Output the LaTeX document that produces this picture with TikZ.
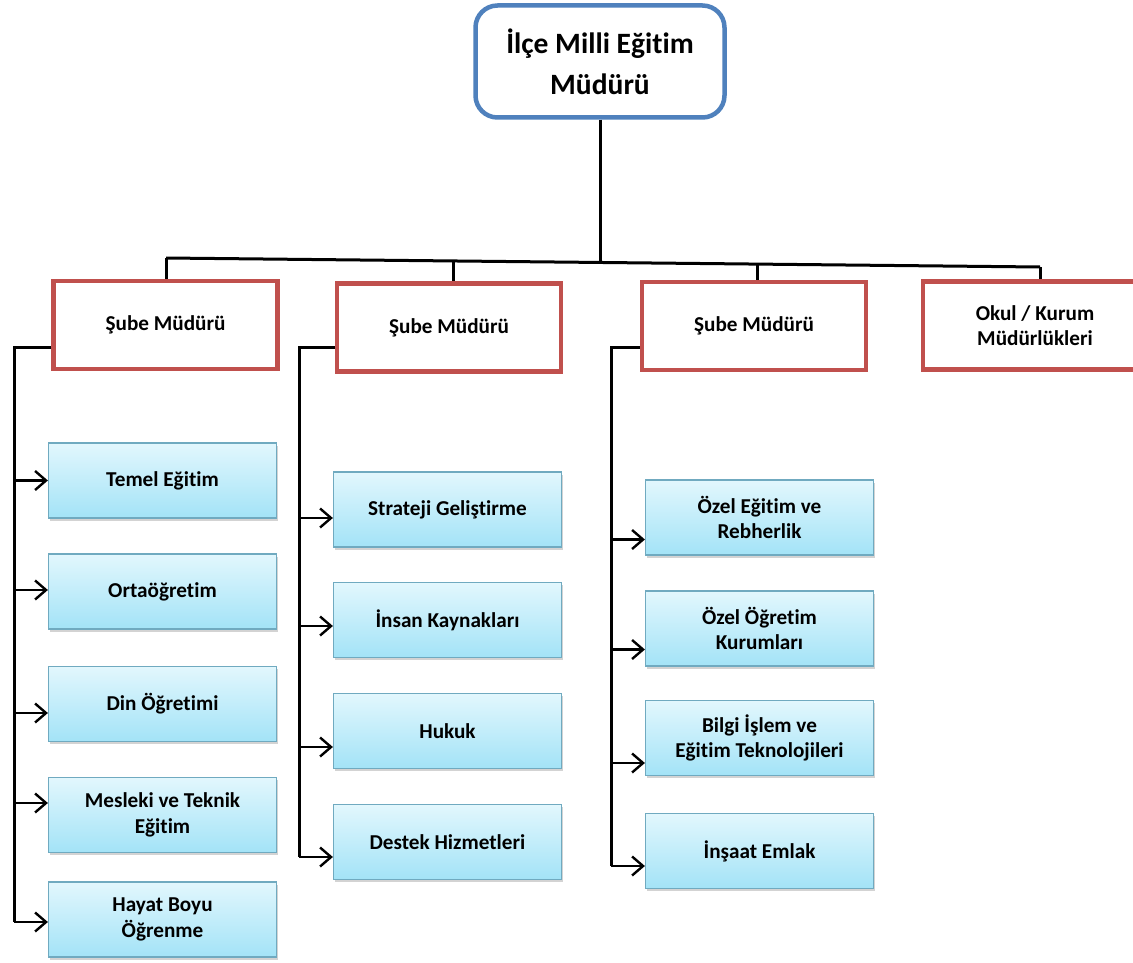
\documentclass[tikz,border=0pt]{standalone}
\usepackage{fontspec}
\setmainfont{Carlito}[Ligatures=NoCommon]
\usetikzlibrary{arrows.meta,shadows,calc}
\definecolor{topblue}{RGB}{79,129,189}
\definecolor{redc}{RGB}{192,80,77}
\definecolor{lbtop}{RGB}{226,247,253}
\definecolor{lbbot}{RGB}{163,227,247}
\definecolor{lbline}{RGB}{112,170,192}
\begin{document}
\begin{tikzpicture}[x=1pt,y=-1pt,
  topbox/.style={draw=topblue, line width=4.5pt, rounded corners=22pt, fill=white,
    minimum width=249pt, minimum height=112pt, inner sep=0pt, align=center,
    font=\fontsize{29.5}{41}\selectfont\bfseries},
  redbox/.style={draw=redc, line width=4.5pt, fill=white,
    minimum width=224pt, minimum height=88pt, inner sep=0pt, align=center,
    font=\fontsize{21.2}{25.5}\selectfont\bfseries},
  bluebox/.style={draw=lbline, line width=1.2pt, top color=lbtop, bottom color=lbbot,
    minimum width=228pt, minimum height=75pt, inner sep=0pt, align=center,
    drop shadow={shadow xshift=1.5pt, shadow yshift=-2.5pt, opacity=0.35},
    font=\fontsize{21.2}{25.5}\selectfont\bfseries},
  conn/.style={line width=3pt, black},
  arr/.style={line width=2.4pt, black, -{Straight Barb[length=11pt,width=19pt,line width=2.4pt]}}
]
\useasboundingbox (0,0) rectangle (1133,963);
\clip (0,0) rectangle (1133,963);

% top
\node[topbox] (top) at (600,61.5) {İlçe Milli Eğitim\\Müdürü};

% red boxes
\node[redbox] (s1) at (165.5,325) {Şube Müdürü};
\node[redbox] (s2) at (449,327.5) {Şube Müdürü};
\node[redbox] (s3) at (754,326) {Şube Müdürü};
\node[redbox] (s4) at (1035,325.5) {Okul / Kurum\\Müdürlükleri};

% bus
\coordinate (bl) at (166,258);
\coordinate (bm) at (600,262.5);
\coordinate (br) at (1040,267);
\coordinate (d2) at (453,261);
\coordinate (d3) at (757,264.5);
\draw[conn] (top.south) -- (bm);
\draw[conn] (bl) -- (br);
\draw[conn] (bl) -- (bl |- s1.north);
\draw[conn] (d2) -- (d2 |- s2.north);
\draw[conn] (d3) -- (d3 |- s3.north);
\draw[conn] (br) -- (br |- s4.north);

% column 1
\node[bluebox] (a1) at (162.5,480.5) {Temel Eğitim};
\node[bluebox] (a2) at (162.5,591.5) {Ortaöğretim};
\node[bluebox] (a3) at (162.5,704) {Din Öğretimi};
\node[bluebox] (a4) at (162.5,815) {Mesleki ve Teknik\\Eğitim};
\node[bluebox] (a5) at (162.5,919.5) {Hayat Boyu\\Öğrenme};

% column 2
\node[bluebox] (b1) at (447.5,509.5) {Strateji Geliştirme};
\node[bluebox] (b2) at (447.5,620) {İnsan Kaynakları};
\node[bluebox] (b3) at (447.5,731) {Hukuk};
\node[bluebox] (b4) at (447.5,842) {Destek Hizmetleri};

% column 3
\node[bluebox] (c1) at (759.5,517.5) {Özel Eğitim ve\\Rebherlik};
\node[bluebox] (c2) at (759.5,628.5) {Özel Öğretim\\Kurumları};
\node[bluebox] (c3) at (759.5,738) {Bilgi İşlem ve\\Eğitim Teknolojileri};
\node[bluebox] (c4) at (759.5,851) {İnşaat Emlak};

% brackets
\coordinate (L1) at (14,347);
\coordinate (L2) at (299,347);
\coordinate (L3) at (611,347);
\coordinate (e15) at ($(a5.west)+(0,2.5)$);
\coordinate (e24) at ($(b4.west)+(0,15)$);
\coordinate (e34) at ($(c4.west)+(0,15)$);
\draw[conn] (s1.west |- L1) -- (L1) -- (L1 |- e15);
\draw[conn] (s2.west |- L2) -- (L2) -- (L2 |- e24);
\draw[conn] (s3.west |- L3) -- (L3) -- (L3 |- e34);

\foreach \n/\d in {a1/0,a2/-1.5,a3/9,a4/-12,a5/2.5}{
  \coordinate (e) at ($(\n.west)+(0,\d)$);
  \draw[arr] (L1 |- e) -- (e);
}
\foreach \n/\d in {b1/8.5,b2/6,b3/16,b4/15}{
  \coordinate (e) at ($(\n.west)+(0,\d)$);
  \draw[arr] (L2 |- e) -- (e);
}
\foreach \n/\d in {c1/22,c2/21,c3/25,c4/15}{
  \coordinate (e) at ($(\n.west)+(0,\d)$);
  \draw[arr] (L3 |- e) -- (e);
}
\end{tikzpicture}
\end{document}
